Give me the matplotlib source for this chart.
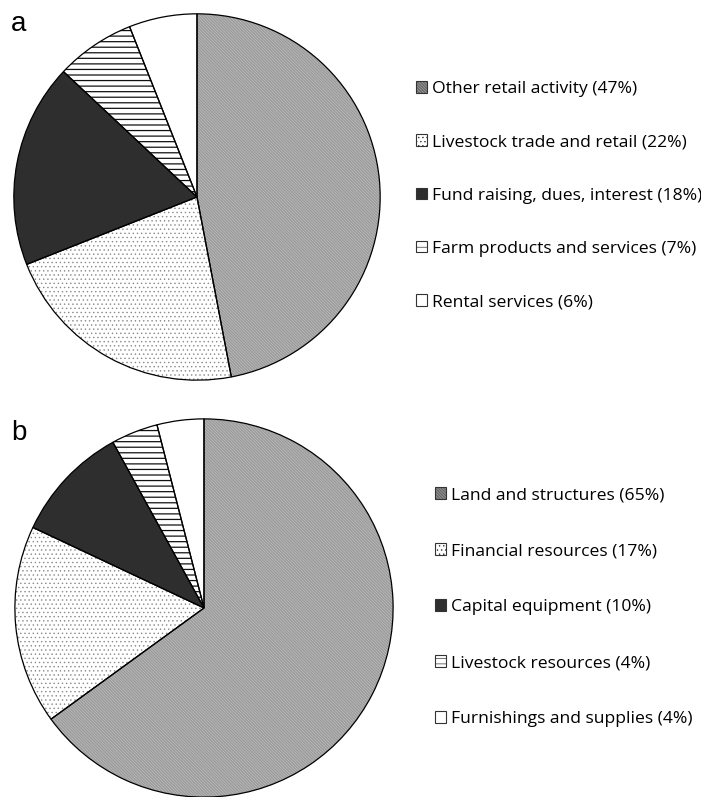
import matplotlib
matplotlib.use("Agg")
import matplotlib.pyplot as plt
from matplotlib.patches import Patch

plt.rcParams['hatch.linewidth'] = 0.5

labels_a = ["Other retail activity (47%)", "Livestock trade and retail (22%)",
            "Fund raising, dues, interest (18%)", "Farm products and services (7%)",
            "Rental services (6%)"]
values_a = [47, 22, 18, 7, 6]

labels_b = ["Land and structures (65%)", "Financial resources (17%)",
            "Capital equipment (10%)", "Livestock resources (4%)",
            "Furnishings and supplies (4%)"]
values_b = [65, 17, 10, 4, 4]

# fills and hatches shared by both pies
faces = ["white", "white", "#2e2e2e", "white", "white"]
hatches = ["\\" * 22, "....", None, "---", None]
hatch_cols = ["#777777", "#8a8a8a", "#2e2e2e", "#111111", "white"]
hatch_lws = [0.5, 0.5, 0.5, 0.9, 0.5]

W, H = 701, 797
fig = plt.figure(figsize=(W / 100, H / 100), dpi=100)


def draw_pie(cx, cy, r, values, labels, leg_x, leg_y, spacing):
    ax = fig.add_axes([(cx - r) / W, (H - cy - r) / H, 2 * r / W, 2 * r / H])
    wedges, _ = ax.pie(values, startangle=90, counterclock=False, radius=1,
                       wedgeprops=dict(linewidth=0))
    for w, fc, h, hc, lw in zip(wedges, faces, hatches, hatch_cols, hatch_lws):
        w.set_facecolor(fc)
        w.set_edgecolor(hc)
        if h:
            w.set_hatch(h)
            if hasattr(w, "set_hatch_linewidth"):
                w.set_hatch_linewidth(lw)
    # outlines on top
    ax.pie(values, startangle=90, counterclock=False, radius=1,
           wedgeprops=dict(facecolor="none", edgecolor="black", linewidth=0.9))
    ax.set_xlim(-1.01, 1.01)
    ax.set_ylim(-1.01, 1.01)
    ax.axis("off")

    handles = []
    for fc, h in zip(faces, hatches):
        p = Patch(facecolor=fc, edgecolor="#333333", hatch=h, linewidth=0.8)
        handles.append(p)
    fig.legend(handles, labels, loc="upper left",
               bbox_to_anchor=(leg_x / W, 1 - leg_y / H),
               frameon=False,
               prop={"family": "Open Sans", "size": 12.6},
               handlelength=0.63, handleheight=0.63, handletextpad=0.28,
               labelspacing=spacing, borderpad=0, borderaxespad=0)


draw_pie(197, 197, 185, values_a, labels_a, 416, 81, 2.13)
draw_pie(204, 608, 191, values_b, labels_b, 435, 487, 2.29)

fig.text(11 / W, 1 - 31 / H, "a", fontsize=20, family="Liberation Sans",
         va="baseline")
fig.text(11 / W, 1 - 440 / H, "b", fontsize=20, family="Liberation Sans",
         va="baseline")

fig.savefig("out.png", dpi=100)
